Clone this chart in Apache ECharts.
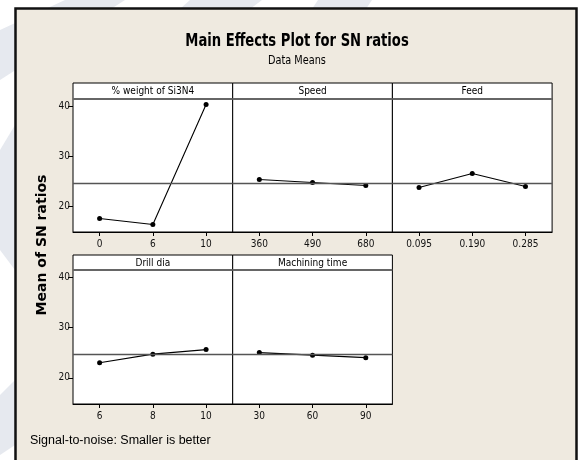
<!DOCTYPE html>
<html>
<head>
<meta charset="utf-8">
<script src="https://cdn.jsdelivr.net/npm/echarts@6/dist/echarts.min.js"></script>
<style>
  html, body { margin: 0; padding: 0; background: #ffffff; }
  #chart { width: 579px; height: 460px; }
</style>
</head>
<body>
<div id="chart"></div>
<script>
// Factor names (panel headers)
const factorNames = ['% weight of Si3N4', 'Speed', 'Feed', 'Drill dia', 'Machining time'];

// Factor levels (x-axis tick labels)
const levelsSi3N4 = ['0', '6', '10'];
const levelsSpeed = ['360', '490', '680'];
const levelsFeed = ['0.095', '0.190', '0.285'];
const levelsDrill = ['6', '8', '10'];
const levelsTime = ['30', '60', '90'];

// Mean S/N ratio at each level
const snSi3N4 = [17.5, 16.3, 40.3];
const snSpeed = [25.3, 24.7, 24.1];
const snFeed = [23.7, 26.5, 23.9];
const snDrill = [23.0, 24.7, 25.6];
const snTime = [25.0, 24.5, 24.0];

// Y-axis tick labels
const yTicks = [20, 30, 40];

const levelSets = [levelsSi3N4, levelsSpeed, levelsFeed, levelsDrill, levelsTime];
const valueSets = [snSi3N4, snSpeed, snFeed, snDrill, snTime];

// Grand mean of all level means (reference line in each panel)
const allValues = valueSets.flat();
const grandMean = allValues.reduce((a, b) => a + b, 0) / allValues.length;

const NARROW = "'Liberation Sans Narrow', 'DejaVu Sans Condensed', 'Liberation Sans', sans-serif";

// Panel geometry
const panelLeft = 73;
const panelW = 159.7;
const rows = [
  { headTop: 83, plotTop: 99, plotBottom: 232 },
  { headTop: 255, plotTop: 270, plotBottom: 404 }
];
const panelPos = [[0, 0], [0, 1], [0, 2], [1, 0], [1, 1]];

const grids = [], xAxes = [], yAxes = [], series = [], graphics = [];

// Faint diagonal bands in the page background
const bandFill = '#e6e9ef';
[
  [[65, 0], [125, 0], [0, 80], [0, 30]],
  [[190, 0], [262, 0], [250, 9], [180, 9]],
  [[318, 0], [372, 0], [366, 9], [312, 9]],
  [[0, 150], [15, 125], [15, 270], [0, 250]],
  [[0, 395], [15, 380], [15, 445], [0, 455]]
].forEach(pts => {
  graphics.push({ type: 'polygon', z: 0, shape: { points: pts }, style: { fill: bandFill } });
});

// Beige frame
graphics.push({
  type: 'rect', z: 1,
  shape: { x: 15.5, y: 8.5, width: 561, height: 470 },
  style: { fill: '#efeae0', stroke: '#111', lineWidth: 2.5 }
});

// Title and subtitle
graphics.push({
  type: 'text', z: 5, x: 297, y: 42, scaleX: 0.86,
  style: { text: 'Main Effects Plot for SN ratios', font: "bold 17px " + NARROW, fill: '#000', align: 'center', verticalAlign: 'middle' }
});
graphics.push({
  type: 'text', z: 5, x: 297, y: 61, scaleX: 0.9,
  style: { text: 'Data Means', font: "12px " + NARROW, fill: '#000', align: 'center', verticalAlign: 'middle' }
});

// Shared y-axis title
graphics.push({
  type: 'text', z: 5, x: 42, y: 245, rotation: Math.PI / 2,
  style: { text: 'Mean of SN ratios', font: "bold 14px 'DejaVu Sans', sans-serif", fill: '#000', align: 'center', verticalAlign: 'middle' }
});

// Footer note
graphics.push({
  type: 'text', z: 5, x: 30, y: 441,
  style: { text: 'Signal-to-noise: Smaller is better', font: "12.5px 'Liberation Sans', sans-serif", fill: '#000', align: 'left', verticalAlign: 'middle' }
});

panelPos.forEach(([r, c], i) => {
  const row = rows[r];
  const left = panelLeft + c * panelW;
  grids.push({
    left: left, top: row.plotTop, width: panelW, height: row.plotBottom - row.plotTop,
    show: true, backgroundColor: '#ffffff', borderColor: '#000', borderWidth: 1, z: 2
  });
  xAxes.push({
    type: 'category', gridIndex: i, data: levelSets[i], boundaryGap: true, z: 10,
    axisLine: { show: true, lineStyle: { color: '#000', width: 1 } },
    axisTick: { show: true, alignWithLabel: true, length: 4, lineStyle: { color: '#000' } },
    axisLabel: { fontSize: 10, fontFamily: NARROW, color: '#111', margin: 7 },
    splitLine: { show: false }
  });
  const showY = c === 0;
  yAxes.push({
    type: 'value', gridIndex: i, min: 14.8, max: 41.4, z: 10,
    show: showY,
    axisLine: { show: false },
    axisTick: { show: true, length: 5, customValues: yTicks, lineStyle: { color: '#000' } },
    axisLabel: { fontSize: 10, fontFamily: NARROW, color: '#111', margin: 3, customValues: yTicks },
    splitLine: { show: false }
  });
  series.push({
    type: 'line', xAxisIndex: i, yAxisIndex: i, data: valueSets[i],
    symbol: 'circle', symbolSize: 5, z: 4,
    lineStyle: { color: '#000', width: 1.1 },
    itemStyle: { color: '#000' },
    markLine: {
      silent: true, symbol: 'none', animation: false,
      label: { show: false },
      lineStyle: { color: '#555', width: 1.3, type: 'solid' },
      data: [{ yAxis: grandMean }]
    }
  });
  // Panel header strip
  graphics.push({
    type: 'rect', z: 6,
    shape: { x: left, y: row.headTop, width: panelW, height: row.plotTop - row.headTop },
    style: { fill: '#ffffff', stroke: '#000', lineWidth: 1 }
  });
  graphics.push({
    type: 'line', z: 7,
    shape: { x1: left, y1: row.plotTop, x2: left + panelW, y2: row.plotTop },
    style: { stroke: '#666', lineWidth: 2 }
  });
  graphics.push({
    type: 'text', z: 8, x: left + panelW / 2, y: (row.headTop + row.plotTop) / 2 + 0.5,
    style: { text: factorNames[i], font: "10px " + NARROW, fill: '#000', align: 'center', verticalAlign: 'middle' }
  });
});

const chart = echarts.init(document.getElementById('chart'), null, { renderer: 'canvas' });
chart.setOption({
  animation: false,
  backgroundColor: '#ffffff',
  grid: grids,
  xAxis: xAxes,
  yAxis: yAxes,
  series: series,
  graphic: { elements: graphics }
});
</script>
</body>
</html>
